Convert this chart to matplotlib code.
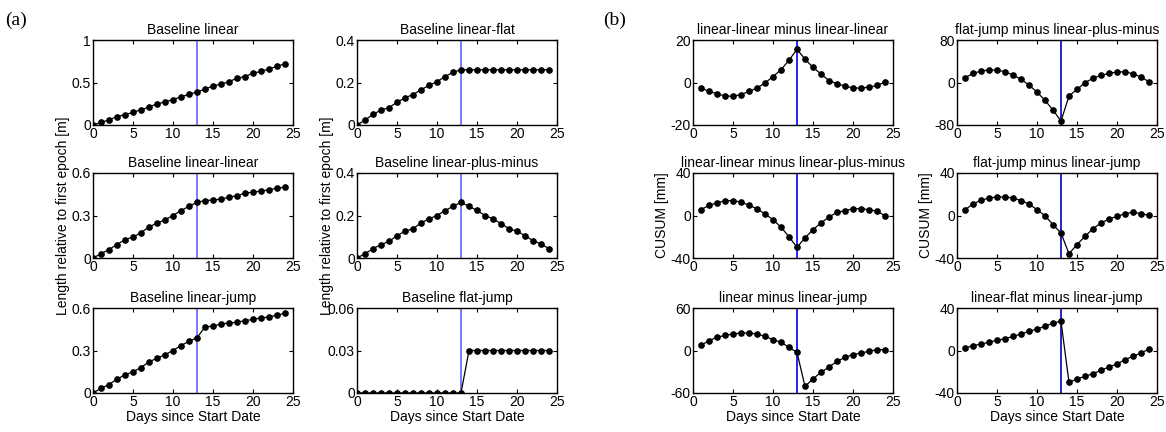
import matplotlib
matplotlib.use('Agg')
import matplotlib.pyplot as plt
from matplotlib.ticker import FuncFormatter

plt.rcParams['font.family'] = ['Liberation Sans', 'DejaVu Sans']
plt.rcParams['font.size'] = 10

# days
days_a = list(range(0, 25))
days_b = list(range(1, 25))
change_day = 13

# (a) baselines [m]
base_linear = [0, 0.03, 0.06, 0.10, 0.12, 0.15, 0.18, 0.21, 0.25, 0.27, 0.30, 0.33, 0.36,
               0.39, 0.42, 0.46, 0.48, 0.51, 0.55, 0.57, 0.61, 0.63, 0.66, 0.69, 0.72]
base_linear_flat = [0, 0.023, 0.05, 0.07, 0.082, 0.107, 0.128, 0.143, 0.166, 0.186, 0.204,
                    0.228, 0.248, 0.26, 0.26, 0.26, 0.26, 0.26, 0.26, 0.26, 0.26, 0.26,
                    0.26, 0.26, 0.26]
base_linear_linear = [0, 0.03, 0.06, 0.095, 0.13, 0.148, 0.178, 0.22, 0.245, 0.27, 0.30,
                      0.335, 0.365, 0.393, 0.405, 0.41, 0.415, 0.43, 0.44, 0.458, 0.465,
                      0.472, 0.482, 0.492, 0.50]
base_linear_plus_minus = [0, 0.02, 0.044, 0.063, 0.078, 0.105, 0.126, 0.138, 0.165, 0.184,
                          0.2, 0.223, 0.243, 0.262, 0.243, 0.224, 0.2, 0.184, 0.162, 0.138,
                          0.126, 0.105, 0.082, 0.066, 0.044]
base_linear_jump = [0, 0.033, 0.06, 0.098, 0.128, 0.15, 0.18, 0.22, 0.245, 0.27, 0.30,
                    0.335, 0.365, 0.39, 0.466, 0.472, 0.488, 0.494, 0.50, 0.51, 0.52,
                    0.53, 0.536, 0.55, 0.562]
base_flat_jump = [0, 0, 0, 0, 0, 0, 0, 0, 0, 0, 0, 0, 0, 0,
                  0.03, 0.03, 0.03, 0.03, 0.03, 0.03, 0.03, 0.03, 0.03, 0.03, 0.03]

# (b) CUSUM differences [mm]
ll_minus_ll = [-2.5, -4.2, -5.3, -6.4, -6.4, -5.7, -4.2, -2.6, -0.2, 2.8, 6.0, 10.5, 15.6,
               11.0, 7.1, 4.0, 0.9, -0.6, -1.7, -2.6, -2.6, -2.2, -1.4, 0.2]
fj_minus_lpm = [9, 17, 21.6, 23.5, 23.5, 20, 14, 6, -4.7, -18, -33.5, -52, -72.5,
                -25.4, -13, -0.3, 8, 13.5, 17, 20, 20, 16.6, 10, 1.5]
ll_minus_lpm = [5.5, 9.6, 11.8, 14, 14, 12.7, 9.6, 6.4, 1.4, -3.9, -11, -20, -30,
                -21, -13.3, -7, -1.4, 3, 4.5, 6.4, 6.4, 5.5, 3.9, -0.2]
fj_minus_lj = [5.5, 10.8, 14.3, 16.5, 17.4, 17.4, 16.5, 14, 10.8, 5.5, -0.2, -8.6, -16.5,
               -36, -27.4, -19.6, -12.4, -7, -3.3, -0.8, 1.7, 3, 1.7, 0.2]
lin_minus_lj = [7.3, 13.9, 18.6, 21.4, 23.3, 24.7, 24.7, 23.3, 20, 15.3, 11.5, 4.5, -2.6,
                -50.6, -40, -30.8, -23.3, -15.3, -9.6, -5.9, -3.5, -1.2, 1.2, 1.2]
lf_minus_lj = [2.4, 4.5, 6.1, 7.7, 9.6, 11.1, 13.3, 15.5, 18, 20.2, 22.7, 25.9, 27.4,
               -30, -26.8, -24.3, -21.8, -18.6, -15.5, -12.7, -8.6, -5.5, -2.4, 1.4]

# (col, row, title, x, y, yticks, line colour)
panels = [
    (0, 0, 'Baseline linear', days_a, base_linear, [0, 0.5, 1], '#6262ff'),
    (1, 0, 'Baseline linear-flat', days_a, base_linear_flat, [0, 0.2, 0.4], '#6262ff'),
    (0, 1, 'Baseline linear-linear', days_a, base_linear_linear, [0, 0.3, 0.6], '#6262ff'),
    (1, 1, 'Baseline linear-plus-minus', days_a, base_linear_plus_minus, [0, 0.2, 0.4], '#6262ff'),
    (0, 2, 'Baseline linear-jump', days_a, base_linear_jump, [0, 0.3, 0.6], '#6262ff'),
    (1, 2, 'Baseline flat-jump', days_a, base_flat_jump, [0, 0.03, 0.06], '#6262ff'),
    (2, 0, 'linear-linear minus linear-linear', days_b, ll_minus_ll, [-20, 0, 20], '#0000ff'),
    (3, 0, 'flat-jump minus linear-plus-minus', days_b, fj_minus_lpm, [-80, 0, 80], '#0000c0'),
    (2, 1, 'linear-linear minus linear-plus-minus', days_b, ll_minus_lpm, [-40, 0, 40], '#0000ff'),
    (3, 1, 'flat-jump minus linear-jump', days_b, fj_minus_lj, [-40, 0, 40], '#0000c0'),
    (2, 2, 'linear minus linear-jump', days_b, lin_minus_lj, [-60, 0, 60], '#0000ff'),
    (3, 2, 'linear-flat minus linear-jump', days_b, lf_minus_lj, [-40, 0, 40], '#0000c0'),
]

W, H = 1166, 432
col_left = [93, 357, 693, 957]
row_top = [40, 173, 308]
aw, ah = 200, 85

fig = plt.figure(figsize=(W / 100, H / 100), dpi=100)
fmt = FuncFormatter(lambda v, p: '%g' % v)

for col, row, title, x, y, yt, lc in panels:
    ax = fig.add_axes([col_left[col] / W, (H - row_top[row] - ah) / H, aw / W, ah / H])
    ax.axvline(change_day, color=lc, lw=1.2, zorder=1)
    ax.plot(x, y, '-', color='black', lw=0.9, marker='o', ms=3.8, zorder=2)
    ax.set_xlim(0, 25)
    ax.set_ylim(yt[0], yt[-1])
    ax.set_xticks([0, 5, 10, 15, 20, 25])
    ax.set_yticks(yt)
    ax.yaxis.set_major_formatter(fmt)
    ax.tick_params(direction='in', top=True, right=True, length=3, width=0.8, pad=1.5)
    for s in ax.spines.values():
        s.set_linewidth(1.0)
    ax.set_title(title, fontsize=10, pad=4)
    if row == 1:
        if col < 2:
            ax.set_ylabel('Length relative to first epoch [m]', labelpad=1)
        else:
            ax.set_ylabel('CUSUM [mm]', labelpad=1)
    if row == 2:
        ax.set_xlabel('Days since Start Date', labelpad=1)

fig.text(5 / W, 1 - 25 / H, '(a)', family='Liberation Serif', fontsize=14)
fig.text(603 / W, 1 - 25 / H, '(b)', family='Liberation Serif', fontsize=14)

fig.savefig('out.png', dpi=100)
